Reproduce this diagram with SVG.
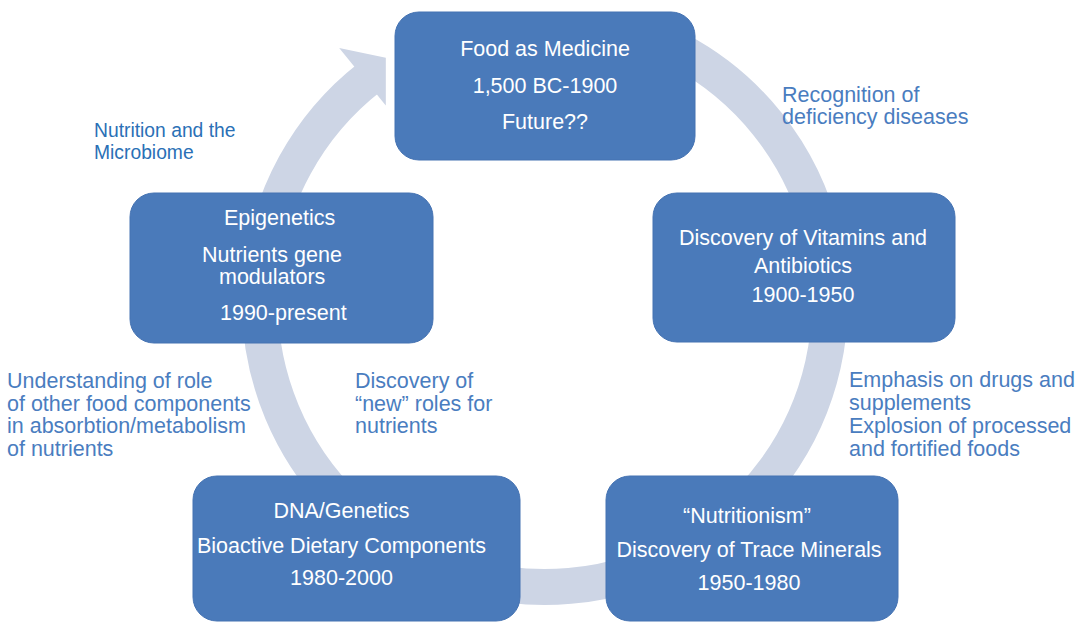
<svg xmlns="http://www.w3.org/2000/svg" width="1090" height="623" viewBox="0 0 1090 623">
<style>
.box{fill:#4a7aba;stroke:#4472b2;stroke-width:1}
.bt{font-family:"Liberation Sans",Arial,sans-serif;font-size:21.5px;fill:#ffffff}
.lb{font-family:"Liberation Sans",Arial,sans-serif;font-size:21.5px;fill:#4a7dbf}
.lb2{font-family:"Liberation Sans",Arial,sans-serif;font-size:19.3px;fill:#2a70b6}
.c{text-anchor:middle}
</style>
<rect width="1090" height="623" fill="#ffffff"/>
<g id="connectors">
<path d="M678.8,50.4 A285,285 0 1 1 369.5,77.4" fill="none" stroke="#cdd5e5" stroke-width="36"/>
<polygon points="339.2,47.9 385.8,57.7 385.8,105.4" fill="#cdd5e5"/>
</g>
<g id="node-food">
<rect class="box" x="395" y="12" width="300" height="148" rx="24"/>
<text class="bt c" x="545" y="56">Food as Medicine</text>
<text class="bt c" x="545" y="92.7">1,500 BC-1900</text>
<text class="bt c" x="545" y="129.3">Future??</text>
</g>
<g id="node-vitamins">
<rect class="box" x="653" y="193" width="302" height="149" rx="24"/>
<text class="bt c" x="803" y="245">Discovery of Vitamins and</text>
<text class="bt c" x="803" y="273">Antibiotics</text>
<text class="bt c" x="803" y="302">1900-1950</text>
</g>
<g id="node-nutritionism">
<rect class="box" x="606" y="476" width="292" height="145" rx="24"/>
<text class="bt c" x="747" y="523">“Nutritionism”</text>
<text class="bt c" x="749" y="557">Discovery of Trace Minerals</text>
<text class="bt c" x="749" y="590">1950-1980</text>
</g>
<g id="node-dna">
<rect class="box" x="193" y="476" width="327" height="145" rx="24"/>
<text class="bt c" x="341.5" y="518">DNA/Genetics</text>
<text class="bt c" x="341.5" y="553">Bioactive Dietary Components</text>
<text class="bt c" x="341.5" y="585">1980-2000</text>
</g>
<g id="node-epigenetics">
<rect class="box" x="130" y="193" width="303" height="150" rx="24"/>
<text class="bt" x="224" y="225">Epigenetics</text>
<text class="bt" x="202" y="261.7">Nutrients gene</text>
<text class="bt" x="219" y="284">modulators</text>
<text class="bt" x="220" y="320">1990-present</text>
</g>
<g id="labels">
<text class="lb" x="782" y="102">Recognition of</text>
<text class="lb" x="782" y="124">deficiency diseases</text>
<text class="lb" x="849" y="387.3">Emphasis on drugs and</text>
<text class="lb" x="849" y="410">supplements</text>
<text class="lb" x="849" y="433.3">Explosion of processed</text>
<text class="lb" x="849" y="455.7">and fortified foods</text>
<text class="lb" x="355" y="388">Discovery of</text>
<text class="lb" x="355" y="410.7">“new” roles for</text>
<text class="lb" x="355" y="433.3">nutrients</text>
<text class="lb" x="7" y="388">Understanding of role</text>
<text class="lb" x="7" y="410.7">of other food components</text>
<text class="lb" x="7" y="433.3">in absorbtion/metabolism</text>
<text class="lb" x="7" y="456">of nutrients</text>
<text class="lb2" x="94" y="137.3">Nutrition and the</text>
<text class="lb2" x="94" y="159.3">Microbiome</text>
</g>
</svg>
